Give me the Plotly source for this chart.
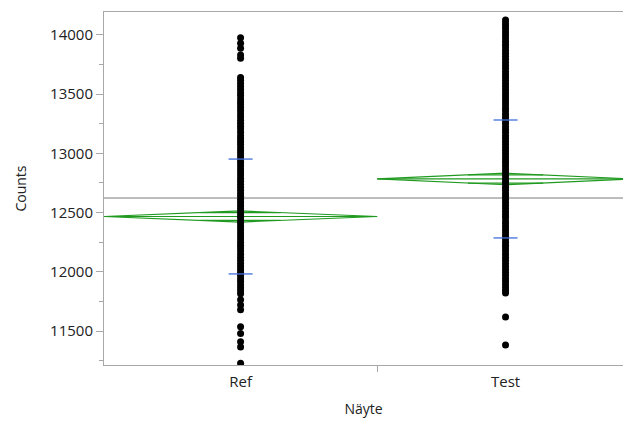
import math
import plotly.graph_objects as go

# ---------------- data ----------------
groups = ["Ref", "Test"]
group_width = [1.0, 0.94]          # relative category widths (sample-size weighted)

ref_counts = [
    13977, 13930, 13888, 13831, 13803,
    13640, 13618, 13590, 13565, 13540, 13512, 13488, 13460, 13435, 13410,
    13385, 13360, 13332, 13308, 13280, 13255, 13230, 13205, 13178, 13150,
    13125, 13100, 13075, 13048, 13022, 12998, 12970, 12945, 12920, 12895,
    12868, 12842, 12818, 12790, 12765, 12740, 12715, 12688, 12662, 12638,
    12610, 12585, 12560, 12535, 12508, 12482, 12458, 12430, 12405, 12380,
    12355, 12328, 12302, 12278, 12250, 12225, 12200, 12175, 12148, 12122,
    12098, 12070, 12045, 12020, 11995, 11968, 11942, 11918, 11890, 11865,
    11840, 11815,
    11765, 11720, 11680, 11535, 11480, 11410, 11365, 11228,
]
test_counts = [
    14127, 14102, 14078, 14052, 14025, 14000, 13975, 13948, 13922, 13898,
    13870, 13845, 13820, 13795, 13768, 13742, 13718, 13690, 13665, 13640,
    13615, 13588, 13562, 13538, 13510, 13485, 13460, 13435, 13408, 13382,
    13358, 13330, 13305, 13280, 13255, 13228, 13202, 13178, 13150, 13125,
    13100, 13075, 13048, 13022, 12998, 12970, 12945, 12920, 12895, 12868,
    12842, 12818, 12790, 12765, 12740, 12715, 12688, 12662, 12638, 12610,
    12585, 12560, 12535, 12508, 12482, 12458, 12430, 12405, 12380, 12355,
    12328, 12302, 12278, 12250, 12225, 12200, 12175, 12148, 12122, 12098,
    12070, 12045, 12020, 11995, 11968, 11942, 11918, 11890, 11865, 11840,
    11821, 11618, 11382,
]
group_means = [12467, 12784]
group_ci_half = [47, 49]
group_sd = [485, 498]
grand_mean = 12623

y_ticks = [11500, 12000, 12500, 13000, 13500, 14000]

# ---------------- figure ----------------
GREEN = "#1f9a1f"
BLUE = "#3f6fdc"

fig = go.Figure()

lefts, centers, rights = [], [], []
pos = 0.0
for w in group_width:
    lefts.append(pos)
    centers.append(pos + w / 2)
    rights.append(pos + w)
    pos += w

# grand mean line
fig.add_trace(go.Scatter(x=[0, 2.2], y=[grand_mean, grand_mean], mode="lines",
                         line=dict(color="#7a7a7a", width=1), hoverinfo="skip",
                         showlegend=False))

# means diamonds
for i, g in enumerate(groups):
    m, ci = group_means[i], group_ci_half[i]
    l, c, r = lefts[i], centers[i], rights[i]
    fig.add_trace(go.Scatter(x=[l, c, r, c, l], y=[m, m + ci, m, m - ci, m],
                             mode="lines", line=dict(color=GREEN, width=1.2),
                             hoverinfo="skip", showlegend=False))
    fig.add_trace(go.Scatter(x=[l, r], y=[m, m], mode="lines",
                             line=dict(color=GREEN, width=1.2),
                             hoverinfo="skip", showlegend=False))
    ov = ci / math.sqrt(2)
    frac = 1 - 1 / math.sqrt(2)
    hw = (r - l) / 2 * frac
    for yy in (m + ov, m - ov):
        fig.add_trace(go.Scatter(x=[c - hw, c + hw], y=[yy, yy], mode="lines",
                                 line=dict(color=GREEN, width=1.2),
                                 hoverinfo="skip", showlegend=False))

# points
all_counts = [ref_counts, test_counts]
for i, g in enumerate(groups):
    fig.add_trace(go.Scatter(x=[centers[i]] * len(all_counts[i]), y=all_counts[i],
                             mode="markers", marker=dict(color="black", size=7),
                             name=g, showlegend=False))

# std dev ticks
for i, g in enumerate(groups):
    c = centers[i]
    for yy in (group_means[i] + group_sd[i], group_means[i] - group_sd[i]):
        fig.add_trace(go.Scatter(x=[c - 0.044, c + 0.044], y=[yy, yy], mode="lines",
                                 line=dict(color=BLUE, width=1.3),
                                 hoverinfo="skip", showlegend=False))

FONT = "Open Sans, Noto Sans, sans-serif"
title_font = dict(family=FONT, size=14, color="#222222")
tick_font = dict(family=FONT, size=15, color="#222222")

fig.update_layout(
    width=623, height=423,
    margin=dict(l=104, r=0, t=12, b=58),
    paper_bgcolor="white", plot_bgcolor="white",
    font=title_font,
    xaxis=dict(
        range=[0, 1.90],
        tickvals=centers, ticktext=groups,
        ticks="", showgrid=False, zeroline=False,
        showline=True, linecolor="#a8a8a8", linewidth=1, mirror=True,
        minor=dict(tickvals=[rights[0]], ticks="outside", ticklen=6,
                   tickcolor="#a8a8a8", showgrid=False),
        title=dict(text="Näyte", font=title_font, standoff=14),
        tickfont=tick_font, ticklabelstandoff=3,
    ),
    yaxis=dict(
        range=[11213, 14194],
        tickvals=y_ticks, ticktext=[str(v) for v in y_ticks],
        ticks="outside", ticklen=7, tickcolor="#a8a8a8",
        minor=dict(dtick=250, tick0=11250, ticks="outside", ticklen=4,
                   tickcolor="#a8a8a8", showgrid=False),
        showgrid=False, zeroline=False,
        showline=True, linecolor="#a8a8a8", linewidth=1,
        title=dict(text="Counts", font=title_font, standoff=20),
        tickfont=tick_font,
    ),
)

fig.write_html("out.html")
